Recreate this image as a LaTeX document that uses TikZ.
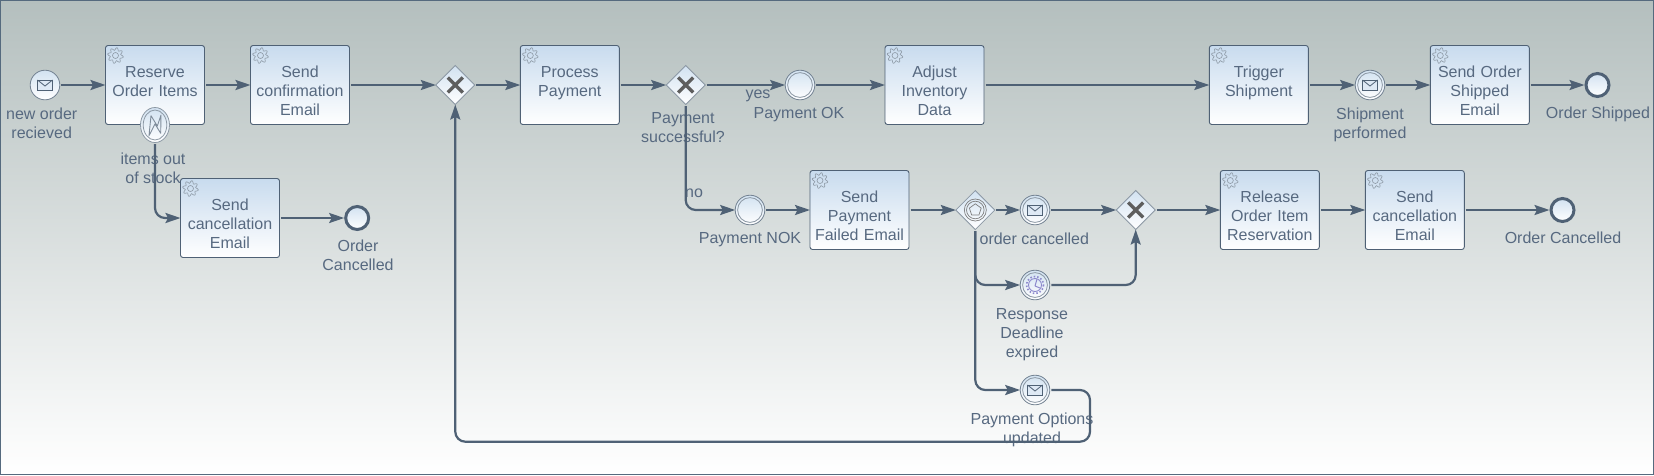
\documentclass[tikz,border=0pt]{standalone}
\usepackage{fontspec}
\setmainfont{Liberation Sans}
\usetikzlibrary{arrows.meta, positioning, shapes.geometric}
\definecolor{FlowGray}{HTML}{4F6175}
\definecolor{LabelGray}{HTML}{576980}
\definecolor{IconGray}{HTML}{8C98A4}
\definecolor{MarkGray}{HTML}{5E5E5E}
\definecolor{ClockBlue}{HTML}{8C88CC}
\definecolor{TaskBlue}{HTML}{C8DBEE}
\definecolor{EventBlue}{HTML}{D2E2F1}
\definecolor{BackGray}{HTML}{B4BFBE}
\definecolor{FrameBlue}{HTML}{556A7E}

\begin{document}
\begin{tikzpicture}[
    x=1pt, y=-1pt,
    task/.style={draw=FlowGray, top color=TaskBlue, bottom color=white, rounded corners=2.5pt, line width=0.9pt, outer sep=0pt, inner sep=0pt, minimum width=99pt, minimum height=79pt, text width=97pt, align=center, text height=19.5pt, text depth=35.5pt, text=LabelGray, font=\fontsize{16}{19}\selectfont},
    eventnode/.style={circle, draw=FlowGray!80, top color=EventBlue, bottom color=white, line width=0.8pt, outer sep=0pt, inner sep=0pt, minimum size=29.6pt},
    endnode/.style={circle, draw=FlowGray, top color=EventBlue, bottom color=white, line width=3pt, outer sep=1.5pt, inner sep=0pt, minimum size=23pt},
    gateway/.style={diamond, aspect=1, draw=IconGray, top color=EventBlue, bottom color=white, line width=0.8pt, outer sep=0pt, inner sep=0pt, minimum width=39pt, minimum height=39pt},
    boundary/.style={ellipse, draw=IconGray, top color=EventBlue, bottom color=white, line width=0.8pt, outer sep=0pt, inner sep=0pt, minimum width=29pt, minimum height=35pt},
    lbl/.style={align=center, inner sep=0pt, text=LabelGray, font=\fontsize{16}{19}\selectfont},
    flow/.style={-{Stealth[length=15pt, width=10pt, inset=2.5pt]}, line width=2.2pt, color=FlowGray, rounded corners=10pt, shorten <=1.5pt},
    gear/.pic={
        \draw[IconGray, line width=0.6pt] plot[domain=0:360, samples=73] (\x:{6.6+1.3*sin(8*\x)}) -- cycle;
        \draw[IconGray, line width=0.6pt] (0,0) circle (3);
    },
    ring/.pic={\draw[IconGray, line width=0.8pt] (0,0) circle (12.4);},
    envelope/.pic={
        \draw[FlowGray, fill=TaskBlue!60, line width=0.8pt] (-7.5,-5) rectangle (7.5,5);
        \draw[FlowGray, line width=0.8pt] (-7.5,-5) -- (0,1) -- (7.5,-5);
    },
    xmark/.pic={\draw[MarkGray, line width=3.4pt] (-7.5,-7.5) -- (7.5,7.5) (-7.5,7.5) -- (7.5,-7.5);},
    clock/.pic={
        \draw[ClockBlue, line width=1.6pt, dash pattern=on 1.5pt off 2pt] (0,0) circle (8.5);
        \draw[ClockBlue, line width=0.9pt] (0,0) circle (6.5);
        \draw[ClockBlue, line width=1pt] (0,1) -- (2,-6) (0,1) -- (5,3);
    },
    lightning/.pic={
        \draw[IconGray!80!FlowGray, line width=0.9pt, line join=round] (-6,10.7) -- (-4,-9.3) -- (2.3,1) -- (6,-10) -- (5.7,8.3) -- (0,-1) -- cycle;
    },
    pentagon/.pic={
        \draw[MarkGray!80, line width=0.7pt] (0,0) circle (11);
        \draw[MarkGray!80, line width=0.7pt] (0,0) circle (8.8);
        \draw[MarkGray!80, line width=0.7pt] plot[domain=-90:270, samples=6] (\x:6.2) -- cycle;
    }
]
    \useasboundingbox (0,0) rectangle (1654,475);
    \shade[top color=BackGray, bottom color=white] (0,0) rectangle (1654,475);
    \draw[FrameBlue, line width=1.2pt] (0.6,0.6) rectangle (1653.4,474.4);

    % upper row
    \node[eventnode] (orderStart) at (45,85) {};
    \node[task, right=45.7pt of orderStart] (reserve) {Reserve\\Order Items};
    \node[task, right=46pt of reserve] (confirm) {Send\\confirmation\\Email};
    \node[gateway, right=86.3pt of confirm] (retryGate) {};
    \node[task, right=45.5pt of retryGate] (process) {Process\\Payment};
    \node[gateway, right=46.9pt of process] (paidGate) {};
    \node[eventnode, right=80pt of paidGate] (paymentOk) {};
    \node[task, right=70.2pt of paymentOk] (inventory) {Adjust\\Inventory\\Data};
    \node[task, right=225.3pt of inventory] (trigger) {Trigger\\Shipment};
    \node[eventnode, right=46.9pt of trigger] (shipment) {};
    \node[task, right=45.5pt of shipment] (shipped) {Send Order\\Shipped\\Email};
    \node[endnode, right=55.2pt of shipped] (endShipped) {};

    % stock branch
    \node[boundary] (outOfStock) at (155,125) {};
    \node[task] (cancelStock) at (230,218) {Send\\cancellation\\Email};
    \node[endnode, right=64.7pt of cancelStock] (endStock) {};

    % lower row
    \node[eventnode] (paymentNok) at (750,210) {};
    \node[task, right=45.2pt of paymentNok] (failed) {Send\\Payment\\Failed Email};
    \node[gateway, right=46.8pt of failed] (waitGate) {};
    \node[eventnode, right=25.4pt of waitGate] (orderCancel) {};
    \node[gateway, right=66.4pt of orderCancel] (joinGate) {};
    \node[task, right=65.1pt of joinGate] (release) {Release\\Order Item\\Reservation};
    \node[task, right=46pt of release] (cancelPaid) {Send\\cancellation\\Email};
    \node[endnode, right=85.2pt of cancelPaid] (endPaid) {};
    \node[eventnode, below=45.4pt of orderCancel] (deadline) {};
    \node[eventnode, below=75.4pt of deadline] (optionsEvent) {};
    \coordinate (loopTurn) at (1090,441.7);

    % icons
    \pic at ([shift={(10,10)}]reserve.north west) {gear};
    \pic at ([shift={(10,10)}]confirm.north west) {gear};
    \pic at ([shift={(10,10)}]process.north west) {gear};
    \pic at ([shift={(10,10)}]inventory.north west) {gear};
    \pic at ([shift={(10,10)}]trigger.north west) {gear};
    \pic at ([shift={(10,10)}]shipped.north west) {gear};
    \pic at ([shift={(10,10)}]cancelStock.north west) {gear};
    \pic at ([shift={(10,10)}]failed.north west) {gear};
    \pic at ([shift={(10,10)}]release.north west) {gear};
    \pic at ([shift={(10,10)}]cancelPaid.north west) {gear};
    \pic at (orderStart) {envelope};
    \pic at (outOfStock) {lightning};
    \draw[IconGray, line width=0.8pt] (outOfStock) ellipse (11.8 and 15);
    \pic at (paymentOk) {ring};
    \pic at (paymentNok) {ring};
    \pic at (shipment) {ring};
    \pic at (shipment) {envelope};
    \pic at (orderCancel) {ring};
    \pic at (orderCancel) {envelope};
    \pic at (deadline) {ring};
    \pic at (deadline) {clock};
    \pic at (optionsEvent) {ring};
    \pic at (optionsEvent) {envelope};
    \pic at (retryGate) {xmark};
    \pic at (paidGate) {xmark};
    \pic at (joinGate) {xmark};
    \pic at (waitGate) {pentagon};

    % labels
    \node[lbl] (startText) at (41.7,123.5) {new order\\recieved};
    \node[lbl] (stockText) at (153,168.5) {items out\\of stock};
    \node[lbl] (endStockText) at (358,255) {Order\\Cancelled};
    \node[lbl] (paidText) at (683,128) {Payment\\successful?};
    \node[lbl] (yesText) at (758,95.5) {yes};
    \node[lbl] (okText) at (799,115) {Payment OK};
    \node[lbl] (noText) at (694,193.7) {no};
    \node[lbl] (nokText) at (750,240) {Payment NOK};
    \node[lbl] (cancelText) at (1034.3,238.7) {order cancelled};
    \node[lbl] (deadlineText) at (1032,335) {Response\\Deadline\\expired};
    \node[lbl] (optionsText) at (1032,429.5) {Payment Options\\updated};
    \node[lbl] (shipmentText) at (1370,125) {Shipment\\performed};
    \node[lbl] (endShippedText) at (1598,114) {Order Shipped};
    \node[lbl] (endPaidText) at (1563,238) {Order Cancelled};

    \draw[flow] (orderStart) -- (reserve);
    \draw[flow] (reserve) -- (confirm);
    \draw[flow] (confirm) -- (retryGate);
    \draw[flow] (retryGate) -- (process);
    \draw[flow] (process) -- (paidGate);
    \draw[flow] (paidGate) -- (paymentOk);
    \draw[flow] (paymentOk) -- (inventory);
    \draw[flow] (inventory) -- (trigger);
    \draw[flow] (trigger) -- (shipment);
    \draw[flow] (shipment) -- (shipped);
    \draw[flow] (shipped) -- (endShipped);
    \draw[flow] (outOfStock.south) |- (cancelStock.west);
    \draw[flow] (cancelStock) -- (endStock);
    \draw[flow] (paidGate.south) |- (paymentNok.west);
    \draw[flow] (paymentNok) -- (failed);
    \draw[flow] (failed) -- (waitGate);
    \draw[flow] (waitGate) -- (orderCancel);
    \draw[flow] (orderCancel) -- (joinGate);
    \draw[flow] (joinGate) -- (release);
    \draw[flow] (release) -- (cancelPaid);
    \draw[flow] (cancelPaid) -- (endPaid);
    \draw[flow] (waitGate.south) |- (deadline.west);
    \draw[flow] (waitGate.south) |- (optionsEvent.west);
    \draw[flow] (deadline.east) -| (joinGate.south);
    \draw[flow] (optionsEvent.east) -| (loopTurn) -| (retryGate.south);
\end{tikzpicture}
\end{document}
